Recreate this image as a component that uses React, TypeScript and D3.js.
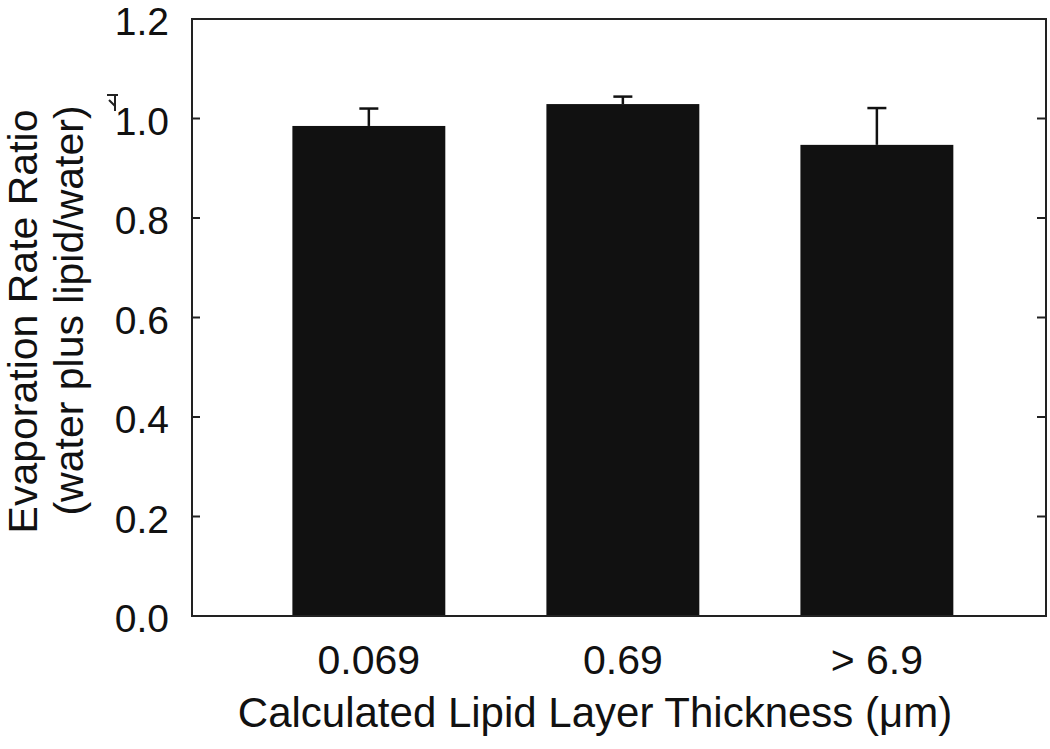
import React from "react";
import * as d3 from "d3";

const categories = ["0.069", "0.69", "> 6.9"];
const means = [0.985, 1.029, 0.947];
const errTops = [1.02, 1.044, 1.021];
const yTicks = [0.0, 0.2, 0.4, 0.6, 0.8, 1.0, 1.2];

const W = 1050;
const H = 749;
const left = 192;
const right = 1046;
const top = 19;
const bottom = 616;
const FONT = "'Liberation Sans', Arial, Helvetica, sans-serif";

export default function App() {
  const x = d3
    .scaleBand<string>()
    .domain(categories)
    .range([left, right])
    .paddingInner(0.398)
    .paddingOuter(0.38)
    .align(0.52);
  const y = d3.scaleLinear().domain([0, 1.2]).range([bottom, top]);
  const bw = x.bandwidth();
  const capW = 19;

  return (
    <svg
      width={W}
      height={H}
      style={{ position: "absolute", left: 0, top: 0, background: "#fff" }}
      fontFamily={FONT}
    >
      <rect x={0} y={0} width={W} height={H} fill="#fff" />
      {/* bars */}
      {categories.map((c, i) => (
        <rect
          key={c}
          x={x(c)}
          y={y(means[i])}
          width={bw}
          height={y(0) - y(means[i])}
          fill="#111"
        />
      ))}
      {/* error bars */}
      {categories.map((c, i) => {
        const cx = (x(c) as number) + bw / 2;
        return (
          <g key={"e" + c} stroke="#111" strokeWidth={2.5}>
            <line x1={cx} x2={cx} y1={y(means[i])} y2={y(errTops[i])} />
            <line x1={cx - capW / 2} x2={cx + capW / 2} y1={y(errTops[i])} y2={y(errTops[i])} />
          </g>
        );
      })}
      {/* frame */}
      <rect
        x={left}
        y={top}
        width={right - left}
        height={bottom - top}
        fill="none"
        stroke="#222"
        strokeWidth={2}
      />
      {/* ticks */}
      {yTicks.map((t) => (
        <g key={"t" + t} stroke="#222" strokeWidth={2}>
          <line x1={left} x2={left + 8} y1={y(t)} y2={y(t)} />
          <line x1={right - 9} x2={right} y1={y(t)} y2={y(t)} />
        </g>
      ))}
      {/* y tick labels */}
      {yTicks.map((t) => (
        <text
          key={"l" + t}
          x={169}
          y={y(t)}
          dy="0.42em"
          textAnchor="end"
          fontSize={39}
          fill="#111"
        >
          {t.toFixed(1)}
        </text>
      ))}
      {/* x tick labels */}
      {categories.map((c) => (
        <text
          key={"x" + c}
          x={(x(c) as number) + bw / 2}
          y={674}
          textAnchor="middle"
          fontSize={41}
          fill="#111"
        >
          {c}
        </text>
      ))}
      {/* x title */}
      <text x={595} y={727} textAnchor="middle" fontSize={42} fill="#111">
        Calculated Lipid Layer Thickness (μm)
      </text>
      {/* y title */}
      <g transform={`translate(37, ${(top + bottom) / 2 + 4}) rotate(-90)`}>
        <text x={0} y={0} textAnchor="middle" fontSize={41} fill="#111">
          Evaporation Rate Ratio
        </text>
      </g>
      <g transform={`translate(83, ${(top + bottom) / 2 - 7}) rotate(-90)`}>
        <text x={0} y={0} textAnchor="middle" fontSize={41} fill="#111">
          (water plus lipid/water)
        </text>
      </g>
      {/* small stray mark near 1.0 label */}
      <path
        d="M107,95 H118 M115,95 V111 M109,100 L115,106"
        stroke="#222"
        strokeWidth={2}
        fill="none"
      />
    </svg>
  );
}
